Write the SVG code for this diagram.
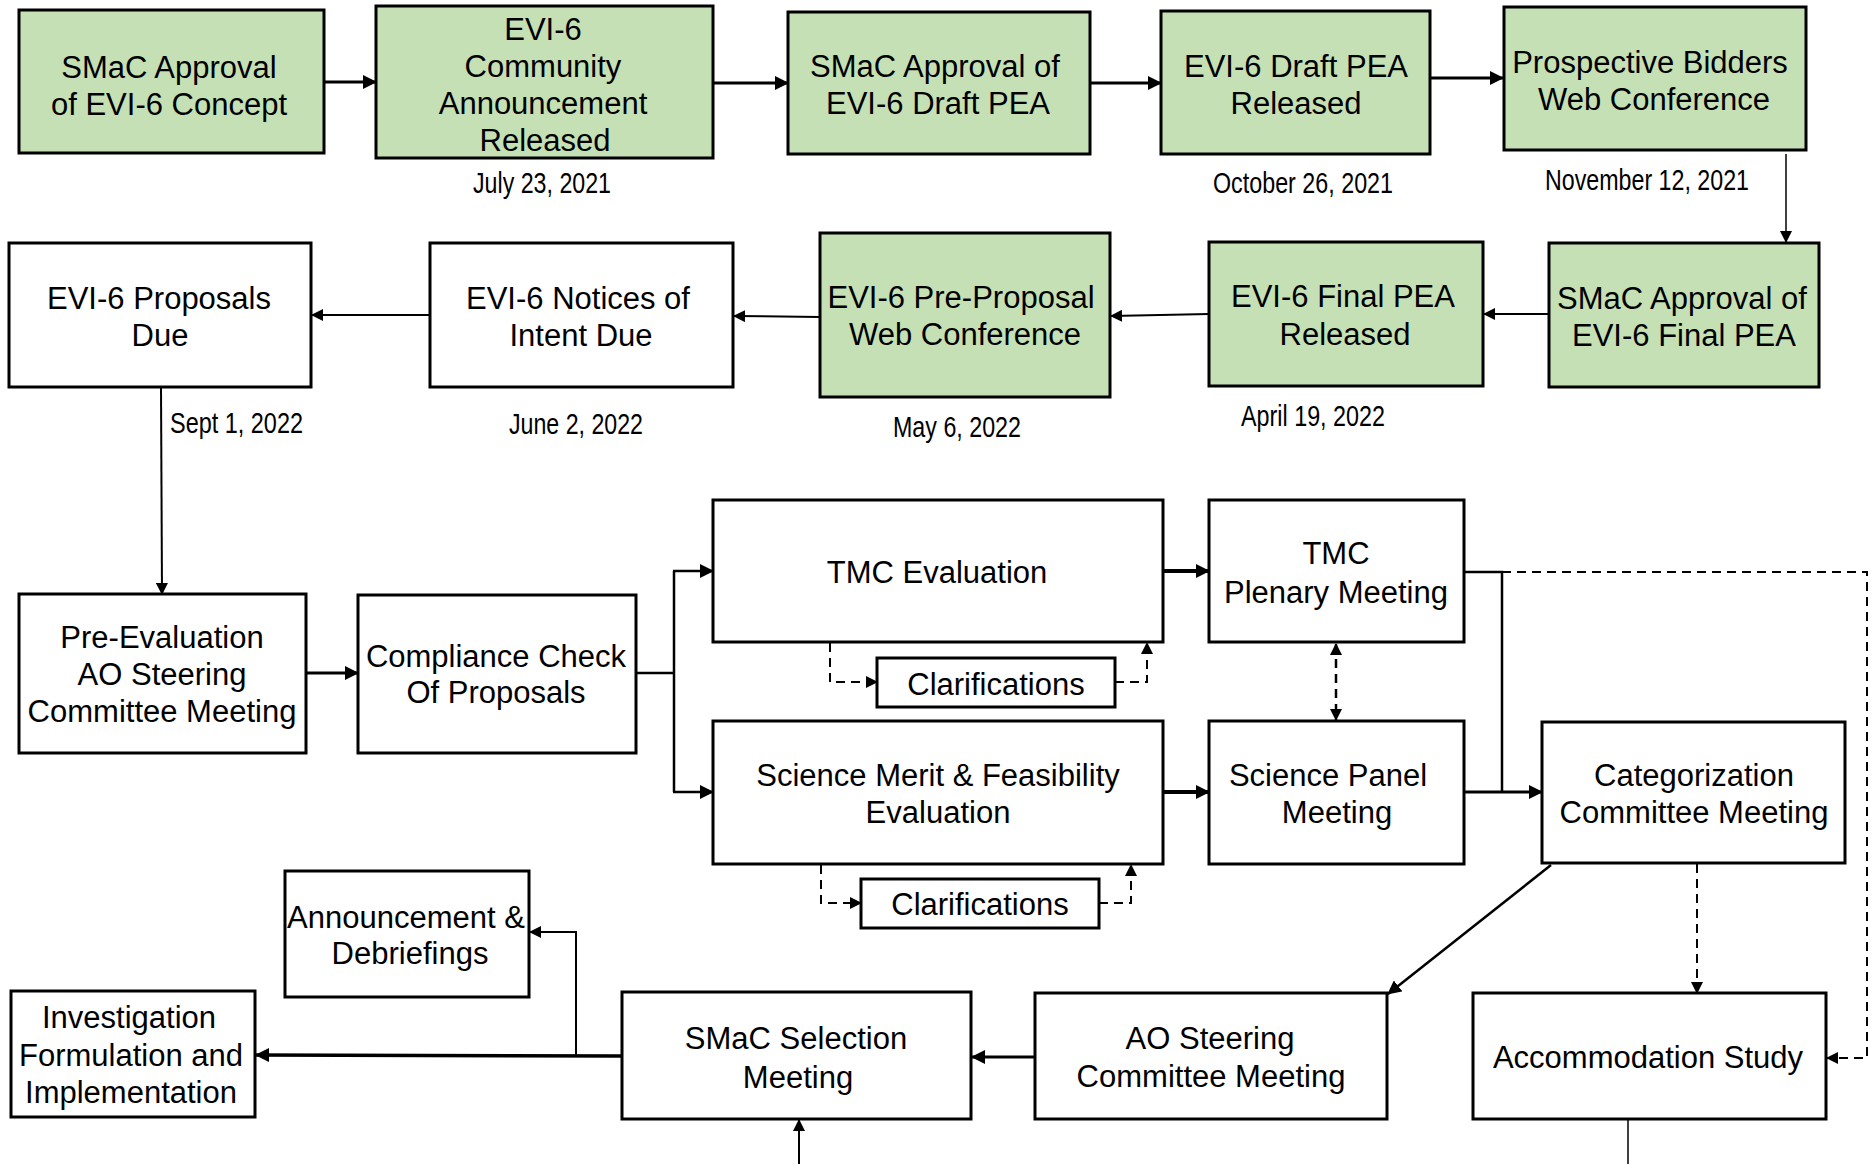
<svg xmlns="http://www.w3.org/2000/svg" width="1875" height="1164" viewBox="0 0 1875 1164">
<defs>
<style>
.box{fill:#fff;stroke:#000;stroke-width:3}
.g{fill:#C5E0B4}
.t{font-family:"Liberation Sans",Arial,sans-serif;font-size:31px;text-anchor:middle;fill:#000}
.d{font-family:"Liberation Sans",Arial,sans-serif;font-size:29px;fill:#000}
.c{fill:none;stroke:#000}
.dash{stroke-dasharray:9,6}
</style>
<marker id="ah" viewBox="0 0 14 14" refX="13" refY="7" markerWidth="14" markerHeight="14" markerUnits="userSpaceOnUse" orient="auto">
<path d="M0,0 L14,7 L0,14 z" fill="#000"/>
</marker>
<marker id="as" viewBox="0 0 12 12" refX="11" refY="6" markerWidth="12" markerHeight="12" markerUnits="userSpaceOnUse" orient="auto">
<path d="M0,0 L12,6 L0,12 z" fill="#000"/>
</marker>
<marker id="ast" viewBox="0 0 12 12" refX="1" refY="6" markerWidth="12" markerHeight="12" markerUnits="userSpaceOnUse" orient="auto">
<path d="M12,0 L0,6 L12,12 z" fill="#000"/>
</marker>
</defs>
<rect width="1875" height="1164" fill="#fff"/>

<g id="connectors">
<line class="c" x1="324" y1="82" x2="376" y2="82" stroke-width="3" marker-end="url(#ah)"/>
<line class="c" x1="713" y1="83" x2="788" y2="83" stroke-width="3" marker-end="url(#ah)"/>
<line class="c" x1="1090" y1="83" x2="1161" y2="83" stroke-width="3" marker-end="url(#ah)"/>
<line class="c" x1="1430" y1="78" x2="1503" y2="78" stroke-width="3" marker-end="url(#ah)"/>
<line class="c" x1="1786" y1="154" x2="1786" y2="242" stroke-width="1.5" marker-end="url(#as)"/>
<line class="c" x1="1549" y1="314" x2="1484" y2="314" stroke-width="2" marker-end="url(#as)"/>
<line class="c" x1="1209" y1="314" x2="1111" y2="316" stroke-width="2" marker-end="url(#as)"/>
<line class="c" x1="820" y1="317" x2="734" y2="316" stroke-width="2" marker-end="url(#as)"/>
<line class="c" x1="430" y1="315" x2="312" y2="315" stroke-width="2" marker-end="url(#as)"/>
<line class="c" x1="161" y1="387" x2="162" y2="594" stroke-width="2" marker-end="url(#as)"/>
<line class="c" x1="306" y1="673" x2="358" y2="673" stroke-width="3" marker-end="url(#ah)"/>
<polyline class="c" points="636,673 674,673" stroke-width="2.5"/>
<line class="c" x1="674" y1="571" x2="674" y2="792" stroke-width="2.5"/>
<line class="c" x1="673" y1="571" x2="713" y2="571" stroke-width="2.5" marker-end="url(#ah)"/>
<line class="c" x1="673" y1="792" x2="713" y2="792" stroke-width="2.5" marker-end="url(#ah)"/>
<line class="c" x1="1163" y1="571" x2="1209" y2="571" stroke-width="4" marker-end="url(#ah)"/>
<line class="c" x1="1163" y1="792" x2="1209" y2="792" stroke-width="4" marker-end="url(#ah)"/>
<polyline class="c" points="1464,572 1502,572 1502,792" stroke-width="2.5"/>
<line class="c" x1="1464" y1="792" x2="1542" y2="792" stroke-width="3" marker-end="url(#ah)"/>
<polyline class="c dash" points="1502,572 1867,572 1867,1058 1827,1058" stroke-width="2" marker-end="url(#as)"/>
<line class="c dash" x1="1336" y1="644" x2="1336" y2="720" stroke-width="2.5" marker-start="url(#ast)" marker-end="url(#as)"/>
<polyline class="c dash" points="830,643 830,682 877,682" stroke-width="2" marker-end="url(#as)"/>
<polyline class="c dash" points="1115,682 1147,682 1147,643" stroke-width="2" marker-end="url(#as)"/>
<polyline class="c dash" points="821,865 821,903 861,903" stroke-width="2" marker-end="url(#as)"/>
<polyline class="c dash" points="1099,903 1131,903 1131,865" stroke-width="2" marker-end="url(#as)"/>
<line class="c dash" x1="1697" y1="864" x2="1697" y2="993" stroke-width="2" marker-end="url(#as)"/>
<line class="c" x1="1551" y1="865" x2="1388" y2="994" stroke-width="2.5" marker-end="url(#ah)"/>
<line class="c" x1="1035" y1="1057" x2="972" y2="1057" stroke-width="3" marker-end="url(#ah)"/>
<line class="c" x1="622" y1="1056" x2="256" y2="1055" stroke-width="3.5" marker-end="url(#ah)"/>
<polyline class="c" points="576,1055 576,932 530,932" stroke-width="2" marker-end="url(#as)"/>
<line class="c" x1="799" y1="1164" x2="799" y2="1120" stroke-width="2" marker-end="url(#as)"/>
<line class="c" x1="1628" y1="1120" x2="1628" y2="1164" stroke-width="1.5"/>
</g>

<g id="n1"><rect class="box g" x="19" y="10" width="305" height="143"/>
<text class="t" x="169" y="78">SMaC Approval</text><text class="t" x="169" y="115">of EVI-6 Concept</text></g>
<g id="n2"><rect class="box g" x="376" y="6" width="337" height="152"/>
<text class="t" x="543" y="40">EVI-6</text><text class="t" x="543" y="77">Community</text><text class="t" x="543" y="114">Announcement</text><text class="t" x="545" y="151">Released</text></g>
<g id="n3"><rect class="box g" x="788" y="12" width="302" height="142"/>
<text class="t" x="935" y="77">SMaC Approval of</text><text class="t" x="938" y="114">EVI-6 Draft PEA</text></g>
<g id="n4"><rect class="box g" x="1161" y="11" width="269" height="143"/>
<text class="t" x="1296" y="77">EVI-6 Draft PEA</text><text class="t" x="1296" y="114">Released</text></g>
<g id="n5"><rect class="box g" x="1504" y="7" width="302" height="143"/>
<text class="t" x="1650" y="73">Prospective Bidders</text><text class="t" x="1654" y="110">Web Conference</text></g>
<g id="n6"><rect class="box g" x="1549" y="243" width="270" height="144"/>
<text class="t" x="1682" y="309">SMaC Approval of</text><text class="t" x="1684" y="346">EVI-6 Final PEA</text></g>
<g id="n7"><rect class="box g" x="1209" y="242" width="274" height="144"/>
<text class="t" x="1343" y="307">EVI-6 Final PEA</text><text class="t" x="1345" y="345">Released</text></g>
<g id="n8"><rect class="box g" x="820" y="233" width="290" height="164"/>
<text class="t" x="961" y="308">EVI-6 Pre-Proposal</text><text class="t" x="965" y="345">Web Conference</text></g>
<g id="n9"><rect class="box" x="430" y="243" width="303" height="144"/>
<text class="t" x="578" y="309">EVI-6 Notices of</text><text class="t" x="581" y="346">Intent Due</text></g>
<g id="n10"><rect class="box" x="9" y="243" width="302" height="144"/>
<text class="t" x="159" y="309">EVI-6 Proposals</text><text class="t" x="160" y="346">Due</text></g>

<g id="dates">
<text class="d" x="473" y="193" textLength="138" lengthAdjust="spacingAndGlyphs">July 23, 2021</text>
<text class="d" x="1213" y="193" textLength="180" lengthAdjust="spacingAndGlyphs">October 26, 2021</text>
<text class="d" x="1545" y="190" textLength="204" lengthAdjust="spacingAndGlyphs">November 12, 2021</text>
<text class="d" x="1241" y="426" textLength="144" lengthAdjust="spacingAndGlyphs">April 19, 2022</text>
<text class="d" x="893" y="437" textLength="128" lengthAdjust="spacingAndGlyphs">May 6, 2022</text>
<text class="d" x="509" y="434" textLength="134" lengthAdjust="spacingAndGlyphs">June 2, 2022</text>
<text class="d" x="170" y="433" textLength="133" lengthAdjust="spacingAndGlyphs">Sept 1, 2022</text>
</g>

<g id="n11"><rect class="box" x="19" y="594" width="287" height="159"/>
<text class="t" x="162" y="648">Pre-Evaluation</text><text class="t" x="162" y="685">AO Steering</text><text class="t" x="162" y="722">Committee Meeting</text></g>
<g id="n12"><rect class="box" x="358" y="595" width="278" height="158"/>
<text class="t" x="496" y="667">Compliance Check</text><text class="t" x="496" y="703">Of Proposals</text></g>
<g id="n13"><rect class="box" x="713" y="500" width="450" height="142"/>
<text class="t" x="937" y="583">TMC Evaluation</text></g>
<g id="n14"><rect class="box" x="1209" y="500" width="255" height="142"/>
<text class="t" x="1336" y="564">TMC</text><text class="t" x="1336" y="603">Plenary Meeting</text></g>
<g id="n15"><rect class="box" x="877" y="658" width="238" height="49"/>
<text class="t" x="996" y="695">Clarifications</text></g>
<g id="n16"><rect class="box" x="713" y="721" width="450" height="143"/>
<text class="t" x="938" y="786">Science Merit &amp; Feasibility</text><text class="t" x="938" y="823">Evaluation</text></g>
<g id="n17"><rect class="box" x="1209" y="721" width="255" height="143"/>
<text class="t" x="1328" y="786">Science Panel</text><text class="t" x="1337" y="823">Meeting</text></g>
<g id="n18"><rect class="box" x="861" y="879" width="238" height="49"/>
<text class="t" x="980" y="915">Clarifications</text></g>
<g id="n19"><rect class="box" x="1542" y="722" width="303" height="141"/>
<text class="t" x="1694" y="786">Categorization</text><text class="t" x="1694" y="823">Committee Meeting</text></g>
<g id="n20"><rect class="box" x="1035" y="993" width="352" height="126"/>
<text class="t" x="1210" y="1049">AO Steering</text><text class="t" x="1211" y="1087">Committee Meeting</text></g>
<g id="n21"><rect class="box" x="1473" y="993" width="353" height="126"/>
<text class="t" x="1648" y="1068">Accommodation Study</text></g>
<g id="n22"><rect class="box" x="622" y="992" width="349" height="127"/>
<text class="t" x="796" y="1049">SMaC Selection</text><text class="t" x="798" y="1088">Meeting</text></g>
<g id="n23"><rect class="box" x="285" y="871" width="244" height="126"/>
<text class="t" x="406" y="928">Announcement &amp;</text><text class="t" x="410" y="964">Debriefings</text></g>
<g id="n24"><rect class="box" x="11" y="991" width="244" height="126"/>
<text class="t" x="129" y="1028">Investigation</text><text class="t" x="131" y="1066">Formulation and</text><text class="t" x="131" y="1103">Implementation</text></g>
</svg>
